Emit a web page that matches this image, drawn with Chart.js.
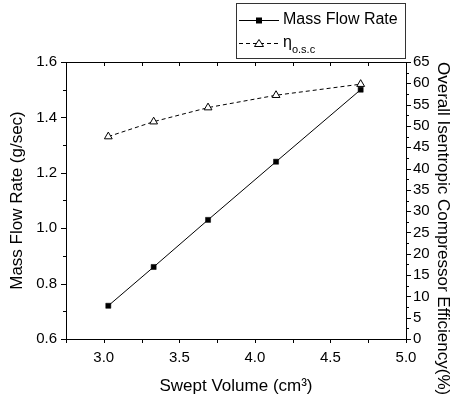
<!DOCTYPE html>
<html><head><meta charset="utf-8">
<script src="https://cdn.jsdelivr.net/npm/chart.js@4.4.1/dist/chart.umd.min.js"></script>
<style>html,body{margin:0;padding:0;background:#fff}</style>
</head><body>
<canvas id="c" width="453" height="398"></canvas>
<script>
// ---- data ----
const sweptVolume = [3.03, 3.33, 3.69, 4.14, 4.70];
const massFlowRate = [0.72, 0.86, 1.03, 1.24, 1.50];
const efficiency = [47.5, 51.0, 54.3, 57.2, 59.8];
const xTicks = [3.0, 3.5, 4.0, 4.5, 5.0];
const leftTicks = [0.6, 0.8, 1.0, 1.2, 1.4, 1.6];
const rightTicks = [0, 5, 10, 15, 20, 25, 30, 35, 40, 45, 50, 55, 60, 65];
const seriesLabels = ['Mass Flow Rate', 'η'];
const etaSubscript = 'o.s.c';

const FONT = "'Liberation Sans', Arial, sans-serif";

function midpoints(arr, extraStart) {
  const out = [];
  if (extraStart !== undefined) out.push(extraStart);
  for (let i = 0; i < arr.length - 1; i++) out.push((arr[i] + arr[i + 1]) / 2);
  return out;
}

const framePlugin = {
  id: 'frameTicks',
  afterDraw(chart) {
    const ctx = chart.ctx;
    const a = chart.chartArea;
    const sx = chart.scales.x, sy = chart.scales.y, sy1 = chart.scales.y1;
    ctx.save();
    ctx.strokeStyle = '#000';
    ctx.lineWidth = 1;
    // frame
    ctx.beginPath();
    ctx.rect(Math.round(a.left) + 0.5, Math.round(a.top) + 0.5, Math.round(a.right - a.left), Math.round(a.bottom - a.top));
    ctx.stroke();
    const line = (x1, y1, x2, y2) => { ctx.beginPath(); ctx.moveTo(x1, y1); ctx.lineTo(x2, y2); ctx.stroke(); };
    // x ticks (bottom outward, top inward)
    const xAll = xTicks.concat(midpoints(xTicks, sx.min));
    xAll.forEach(v => {
      const p = Math.round(sx.getPixelForValue(v)) + 0.5;
      line(p, a.bottom, p, a.bottom + 4);
      line(p, a.top, p, a.top + 4);
    });
    // left ticks
    leftTicks.forEach(v => { const p = Math.round(sy.getPixelForValue(v)) + 0.5; line(a.left, p, a.left - 5, p); });
    midpoints(leftTicks).forEach(v => { const p = Math.round(sy.getPixelForValue(v)) + 0.5; line(a.left, p, a.left - 3, p); });
    // right ticks
    rightTicks.forEach(v => { const p = Math.round(sy1.getPixelForValue(v)) + 0.5; line(a.right, p, a.right + 5, p); });
    midpoints(rightTicks).forEach(v => { const p = Math.round(sy1.getPixelForValue(v)) + 0.5; line(a.right, p, a.right + 3, p); });

    // legend box
    const bx = 236.5, by = 3.5, bw = 169, bh = 55;
    ctx.strokeStyle = '#333';
    ctx.strokeRect(bx, by, bw, bh);
    const rows = [20, 43];
    chart.data.datasets.forEach((ds, i) => {
      const y = rows[i] + 0.5;
      ctx.strokeStyle = '#000';
      ctx.setLineDash(ds.borderDash || []);
      line(239, y, 279, y);
      ctx.setLineDash([]);
      // marker
      if (ds.pointStyle === 'rect') {
        ctx.fillStyle = '#000';
        ctx.fillRect(256, y - 3, 6, 6);
      } else {
        ctx.fillStyle = '#fff';
        ctx.beginPath();
        ctx.moveTo(259, y - 4); ctx.lineTo(263.5, y + 3); ctx.lineTo(254.5, y + 3); ctx.closePath();
        ctx.fill(); ctx.stroke();
      }
      ctx.fillStyle = '#000';
      ctx.textBaseline = 'middle';
      ctx.textAlign = 'left';
      ctx.font = '16px ' + FONT;
      ctx.fillText(ds.label, 283, rows[i]);
      if (i === 1) {
        const w = ctx.measureText(ds.label).width;
        ctx.font = '11px ' + FONT;
        ctx.fillText(etaSubscript, 283 + w, rows[i] + 7);
      }
    });
    ctx.restore();
  }
};

new Chart(document.getElementById('c'), {
  type: 'line',
  data: {
    datasets: [
      {
        label: seriesLabels[0],
        data: sweptVolume.map((x, i) => ({ x: x, y: massFlowRate[i] })),
        yAxisID: 'y',
        borderColor: '#000', borderWidth: 1,
        pointStyle: 'rect', pointRadius: 3.6,
        pointBackgroundColor: '#000', pointBorderColor: '#000', pointBorderWidth: 0.5,
        tension: 0
      },
      {
        label: seriesLabels[1],
        data: sweptVolume.map((x, i) => ({ x: x, y: efficiency[i] })),
        yAxisID: 'y1',
        borderColor: '#000', borderWidth: 1, borderDash: [4, 3],
        pointStyle: 'triangle', pointRadius: 4.5,
        pointBackgroundColor: '#fff', pointBorderColor: '#000', pointBorderWidth: 1,
        tension: 0
      }
    ]
  },
  options: {
    responsive: false,
    animation: false,
    devicePixelRatio: 1,
    layout: { padding: { top: 62, left: 0, right: 0, bottom: 0 } },
    plugins: { legend: { display: false }, tooltip: { enabled: false } },
    scales: {
      x: {
        type: 'linear', position: 'bottom', min: 2.75, max: 5.0,
        afterBuildTicks: s => { s.ticks = xTicks.map(v => ({ value: v })); },
        afterFit: s => { s.height = 59; },
        grid: { drawOnChartArea: false, drawTicks: false },
        border: { display: true, color: '#000', width: 1 },
        ticks: { padding: 10, color: '#000', font: { family: FONT, size: 15 }, callback: v => v.toFixed(1) },
        title: { display: true, text: 'Swept Volume (cm³)', color: '#000', font: { family: FONT, size: 17 }, padding: { top: 0, bottom: 1 } }
      },
      y: {
        type: 'linear', position: 'left', min: 0.6, max: 1.6,
        afterBuildTicks: s => { s.ticks = leftTicks.map(v => ({ value: v })); },
        afterFit: s => { s.width = 66; },
        grid: { drawOnChartArea: false, drawTicks: false },
        border: { display: true, color: '#000', width: 1 },
        ticks: { padding: 9, color: '#000', font: { family: FONT, size: 15 }, callback: v => v.toFixed(1) },
        title: { display: true, text: 'Mass Flow Rate (g/sec)', color: '#000', font: { family: FONT, size: 17 }, padding: { top: 7, bottom: 0 } }
      },
      y1: {
        type: 'linear', position: 'right', min: 0, max: 65,
        afterBuildTicks: s => { s.ticks = rightTicks.map(v => ({ value: v })); },
        afterFit: s => { s.width = 47; },
        grid: { drawOnChartArea: false, drawTicks: false },
        border: { display: true, color: '#000', width: 1 },
        ticks: { padding: 7, color: '#000', font: { family: FONT, size: 15 }, callback: v => String(v) },
        title: { display: true, align: 'end', text: 'Overall Isentropic Compressor Efficiency(%)', color: '#000', font: { family: FONT, size: 17 }, padding: { top: 0, bottom: 0 } }
      }
    }
  },
  plugins: [framePlugin]
});
</script>
</body></html>
